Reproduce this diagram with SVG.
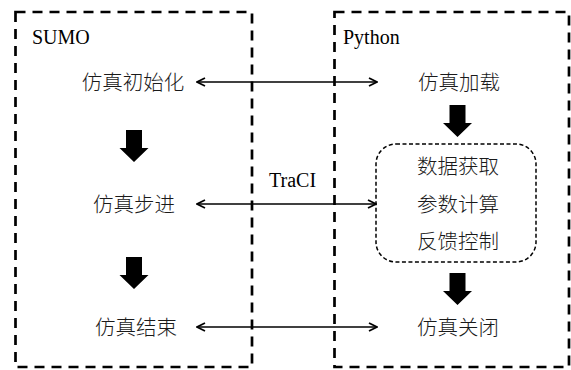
<svg xmlns="http://www.w3.org/2000/svg" width="571" height="370" viewBox="0 0 571 370">
  <style>
    .frame { fill: none; stroke: #000; stroke-width: 2.7; stroke-dasharray: 10 7; }
    .inner { fill: none; stroke: #000; stroke-width: 1.5; stroke-dasharray: 4 2.5; }
    .lat { font-family: "Liberation Serif", "Times New Roman", serif; font-size: 20px; fill: #000; }
    .cjk { font-family: "Liberation Serif", "Noto Sans CJK SC", sans-serif; font-size: 20.5px; font-weight: 300; fill: #1a1a1a; text-anchor: middle; }
    .link { stroke: #000; stroke-width: 1.6; fill: none; marker-start: url(#head); marker-end: url(#head); }
    .block { fill: #000; }
  </style>
  <defs>
    <marker id="head" viewBox="0 0 10 10" refX="9" refY="5" markerWidth="10" markerHeight="10" markerUnits="userSpaceOnUse" orient="auto-start-reverse">
      <path d="M1,1 L9,5 L1,9" fill="none" stroke="#000" stroke-width="1.8"/>
    </marker>
    <path id="down" d="M-8,0 H8 V18 H14.5 L0,32 L-14.5,18 H-8 Z"/>
  </defs>
  <rect width="571" height="370" fill="#fff"/>

  <g id="sumo">
    <rect class="frame" x="15.5" y="12" width="236.5" height="355"/>
    <text class="lat" x="32" y="44">SUMO</text>
  </g>
  <g id="python">
    <rect class="frame" x="334.5" y="12" width="234.5" height="355"/>
    <text class="lat" x="343" y="44">Python</text>
  </g>

  <g id="sim-init"><text class="cjk" x="133" y="90">仿真初始化</text></g>
  <g id="sim-step"><text class="cjk" x="134" y="212">仿真步进</text></g>
  <g id="sim-end"><text class="cjk" x="136" y="335">仿真结束</text></g>

  <g id="sim-load"><text class="cjk" x="459" y="90">仿真加载</text></g>
  <g id="process">
    <rect class="inner" x="376" y="144" width="160" height="118" rx="20" ry="20"/>
    <text class="cjk" x="458" y="174">数据获取</text>
    <text class="cjk" x="458" y="212">参数计算</text>
    <text class="cjk" x="458" y="249">反馈控制</text>
  </g>
  <g id="sim-close"><text class="cjk" x="458" y="335">仿真关闭</text></g>

  <g id="connectors">
    <line class="link" x1="197" y1="82" x2="377" y2="82"/>
    <line class="link" x1="197" y1="204" x2="376" y2="204"/>
    <line class="link" x1="197" y1="327" x2="377" y2="327"/>
    <text class="lat" x="269" y="187">TraCI</text>
    <use href="#down" class="block" x="134" y="130"/>
    <use href="#down" class="block" x="134" y="257"/>
    <use href="#down" class="block" x="457.5" y="105"/>
    <use href="#down" class="block" x="457.5" y="273"/>
  </g>
</svg>
